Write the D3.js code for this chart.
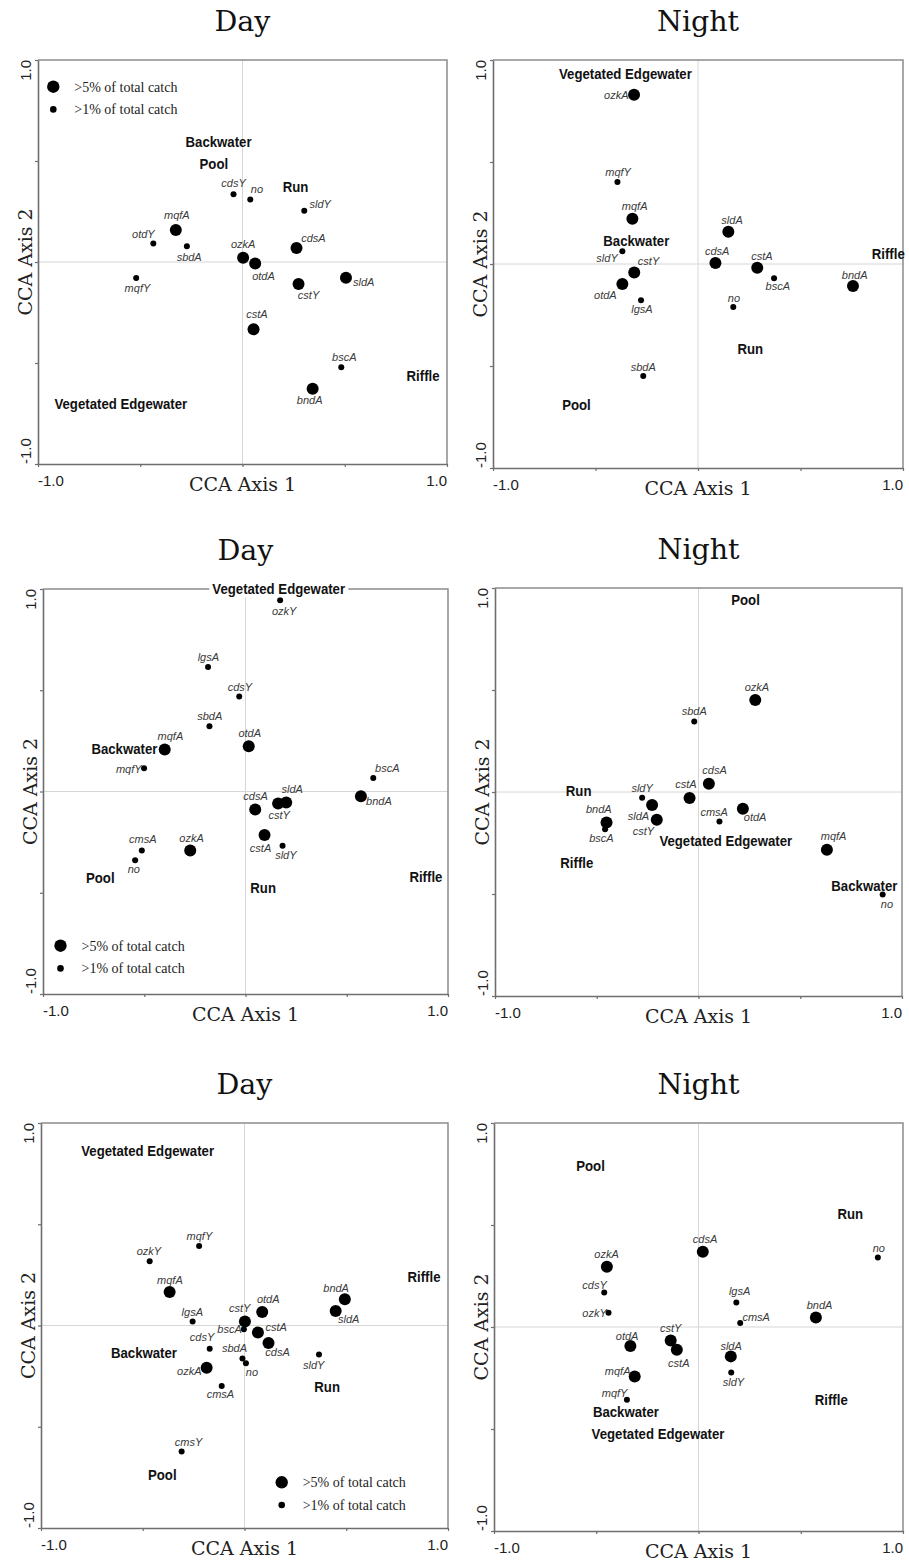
<!DOCTYPE html>
<html lang="en">
<head>
<meta charset="UTF-8">
<title>CCA biplots - day and night</title>
<script src="https://d3js.org/d3.v7.min.js"></script>
<style>
  body { margin: 0; background: #fff; }
  svg { display: block; }
  .title { font-family: 'DejaVu Serif', serif; font-size: 28.5px; fill: #111; }
  .axis-label { font-family: 'DejaVu Serif', serif; font-size: 19px; fill: #222; }
  .tick-label { font-family: 'Liberation Sans', Arial, sans-serif; font-size: 15px; fill: #222; }
  .species { font-family: 'Liberation Sans', Arial, sans-serif; font-size: 11px; font-style: italic; fill: #3a3a3a; }
  .habitat { font-family: 'Liberation Sans', Arial, sans-serif; font-size: 15px; font-weight: bold; fill: #111; }
  .legend { font-family: 'Liberation Serif', serif; font-size: 14px; fill: #222; }
</style>
</head>
<body>
<svg width="909" height="1562"></svg>
<script>
  // ---- data ----
  const panelTitles = ['Day', 'Night', 'Day', 'Night', 'Day', 'Night'];
  const axisTicks = [-1, -0.5, 0, 0.5, 1];
  const tickLabels = ['-1.0', '1.0'];
  const legendLabels = ['>5% of total catch', '>1% of total catch'];

  // species scores: [code, axis 1, axis 2, catch class (5 = >5%, 1 = >1%)]
  const day1Species = [
    ['cdsY', -0.044, 0.335, 1], ['no', 0.038, 0.310, 1], ['sldY', 0.302, 0.254, 1],
    ['mqfA', -0.326, 0.158, 5], ['otdY', -0.436, 0.091, 1], ['sbdA', -0.272, 0.078, 1],
    ['ozkA', 0.003, 0.021, 5], ['otdA', 0.062, -0.007, 5], ['cdsA', 0.264, 0.069, 5],
    ['mqfY', -0.520, -0.079, 1], ['cstY', 0.274, -0.109, 5], ['sldA', 0.506, -0.078, 5],
    ['cstA', 0.054, -0.333, 5], ['bscA', 0.483, -0.521, 1], ['bndA', 0.343, -0.627, 5]
  ];
  const night1Species = [
    ['ozkA', -0.312, 0.830, 5], ['mqfY', -0.393, 0.402, 1], ['mqfA', -0.320, 0.222, 5],
    ['sldA', 0.148, 0.158, 5], ['sldY', -0.369, 0.062, 1], ['cstY', -0.311, -0.042, 5],
    ['otdA', -0.369, -0.098, 5], ['lgsA', -0.278, -0.178, 1], ['cdsA', 0.085, 0.005, 5],
    ['cstA', 0.289, -0.018, 5], ['bscA', 0.371, -0.070, 1], ['no', 0.172, -0.211, 1],
    ['bndA', 0.756, -0.108, 5], ['sbdA', -0.267, -0.549, 1]
  ];
  const day2Species = [
    ['ozkY', 0.171, 0.944, 1], ['lgsA', -0.185, 0.615, 1], ['cdsY', -0.031, 0.469, 1],
    ['sbdA', -0.178, 0.322, 1], ['mqfA', -0.399, 0.207, 5], ['otdA', 0.016, 0.224, 5],
    ['mqfY', -0.501, 0.115, 1], ['bscA', 0.631, 0.067, 1], ['bndA', 0.570, -0.023, 5],
    ['sldA', 0.201, -0.054, 5], ['cstY', 0.161, -0.059, 5], ['cdsA', 0.048, -0.089, 5],
    ['cstA', 0.094, -0.215, 5], ['sldY', 0.183, -0.268, 1], ['ozkA', -0.273, -0.291, 5],
    ['cmsA', -0.512, -0.291, 1], ['no', -0.545, -0.340, 1]
  ];
  const night2Species = [
    ['ozkA', 0.279, 0.451, 5], ['sbdA', -0.021, 0.346, 1], ['cdsA', 0.051, 0.041, 5],
    ['cstA', -0.044, -0.029, 5], ['sldY', -0.277, -0.028, 1], ['sldA', -0.228, -0.064, 5],
    ['cstY', -0.205, -0.136, 5], ['otdA', 0.218, -0.082, 5], ['cmsA', 0.103, -0.144, 1],
    ['bndA', -0.452, -0.150, 5], ['bscA', -0.459, -0.183, 1], ['mqfA', 0.631, -0.283, 5],
    ['no', 0.905, -0.502, 1]
  ];
  const day3Species = [
    ['mqfY', -0.223, 0.392, 1], ['ozkY', -0.466, 0.317, 1], ['mqfA', -0.368, 0.166, 5],
    ['bndA', 0.493, 0.130, 5], ['sldA', 0.448, 0.072, 5], ['otdA', 0.087, 0.067, 5],
    ['cstY', 0.002, 0.020, 5], ['lgsA', -0.255, 0.020, 1], ['bscA', -0.003, -0.018, 1],
    ['cstA', 0.066, -0.035, 5], ['cdsA', 0.118, -0.086, 5], ['cdsY', -0.171, -0.115, 1],
    ['sbdA', -0.010, -0.163, 1], ['no', 0.007, -0.186, 1], ['sldY', 0.366, -0.143, 1],
    ['ozkA', -0.186, -0.209, 5], ['cmsA', -0.112, -0.299, 1], ['cmsY', -0.309, -0.622, 1]
  ];
  const night3Species = [
    ['cdsA', 0.021, 0.369, 5], ['no', 0.877, 0.341, 1], ['ozkA', -0.448, 0.295, 5],
    ['cdsY', -0.461, 0.169, 1], ['ozkY', -0.440, 0.070, 1], ['lgsA', 0.185, 0.120, 1],
    ['cmsA', 0.204, 0.020, 1], ['bndA', 0.574, 0.046, 5], ['otdA', -0.333, -0.093, 5],
    ['cstY', -0.136, -0.066, 5], ['cstA', -0.106, -0.111, 5], ['sldA', 0.158, -0.144, 5],
    ['sldY', 0.160, -0.223, 1], ['mqfA', -0.312, -0.243, 5], ['mqfY', -0.350, -0.357, 1]
  ];

  // habitat centroids: [name, axis 1, axis 2]
  const day1Habitats = [
    ['Backwater', -0.117, 0.594], ['Pool', -0.14, 0.487], ['Run', 0.259, 0.375],
    ['Riffle', 0.883, -0.564], ['Vegetated Edgewater', -0.595, -0.701]
  ];
  const night1Habitats = [
    ['Vegetated Edgewater', -0.354, 0.935], ['Backwater', -0.301, 0.114], ['Riffle', 0.928, 0.05],
    ['Run', 0.255, -0.413], ['Pool', -0.593, -0.688]
  ];
  const day2Habitats = [
    ['Vegetated Edgewater', 0.164, 1.0], ['Backwater', -0.598, 0.211], ['Pool', -0.717, -0.428],
    ['Run', 0.087, -0.474], ['Riffle', 0.891, -0.423]
  ];
  const night2Habitats = [
    ['Pool', 0.231, 0.944], ['Run', -0.589, 0.008], ['Riffle', -0.598, -0.348],
    ['Vegetated Edgewater', 0.134, -0.239], ['Backwater', 0.815, -0.458]
  ];
  const day3Habitats = [
    ['Vegetated Edgewater', -0.476, 0.863], ['Riffle', 0.882, 0.243], ['Backwater', -0.494, -0.133],
    ['Run', 0.406, -0.303], ['Pool', -0.404, -0.736]
  ];
  const night3Habitats = [
    ['Pool', -0.528, 0.792], ['Run', 0.742, 0.557], ['Riffle', 0.649, -0.357],
    ['Backwater', -0.355, -0.415], ['Vegetated Edgewater', -0.198, -0.525]
  ];

  // ---- layout ----
  // label offsets (px) of each species code from its point
  const day1Labels = { cdsY: [0, -10.7], no: [6.7, -10], sldY: [16, -7], mqfA: [1, -14.7], otdY: [-10, -9],
    sbdA: [2.3, 11.3], ozkA: [0, -14], otdA: [8.3, 12.3], cdsA: [17, -10], mqfY: [1.3, 9.7], cstY: [10, 11],
    sldA: [17.7, 4.3], cstA: [3.3, -15], bscA: [3, -9.7], bndA: [-3, 11] };
  const night1Labels = { ozkA: [-17.7, 0], mqfY: [0.7, -9.7], mqfA: [2.3, -13], sldA: [3.7, -11.7], sldY: [-15.3, 6.3],
    cstY: [14.3, -11], otdA: [-17, 11.3], lgsA: [1, 9.3], cdsA: [1.7, -12], cstA: [4.7, -11.7], bscA: [3.7, 7.7],
    no: [0.7, -9], bndA: [1.7, -11.3], sbdA: [0, -9] };
  const day2Labels = { ozkY: [4, 11.3], lgsA: [0.3, -10.3], cdsY: [0.7, -9.7], sbdA: [0.3, -9.7], mqfA: [5.7, -13.3],
    otdA: [1, -12.7], mqfY: [-15.3, 0.7], bscA: [14, -10], bndA: [18, 4.7], sldA: [6, -13.3], cstY: [1, 12],
    cdsA: [0.3, -13], cstA: [-4, 13], sldY: [3.3, 9.7], ozkA: [1.3, -12.3], cmsA: [1, -11], no: [-1.3, 8.7] };
  const night2Labels = { ozkA: [1.7, -13], sbdA: [0, -10.3], cdsA: [5.7, -13.3], cstA: [-3.7, -13.3], sldY: [0, -10],
    sldA: [-13.7, 11.3], cstY: [-13.3, 11.7], otdA: [12.3, 8.7], cmsA: [-5.3, -9.3], bndA: [-7.7, -13],
    bscA: [-3.7, 9.3], mqfA: [6.7, -13.7], no: [4.3, 9.7] };
  const day3Labels = { mqfY: [0.3, -10.3], ozkY: [-0.7, -10], mqfA: [0.3, -11.7], bndA: [-8.7, -10.7], sldA: [13, 8],
    otdA: [6, -12.3], cstY: [-5.3, -13], lgsA: [-0.3, -9.7], bscA: [-14.3, 0], cstA: [18.3, -5], cdsA: [9, 9.7],
    cdsY: [-7.7, -11.3], sbdA: [-8, -10.7], no: [6, 9.3], sldY: [-5.3, 10.3], ozkA: [-17.3, 3], cmsA: [-1.3, 8.3],
    cmsY: [7, -9.7] };
  const night3Labels = { cdsA: [2.3, -12.3], no: [1, -9], ozkA: [-0.3, -12.3], cdsY: [-9.7, -7.7], ozkY: [-14, 0],
    lgsA: [3.3, -11], cmsA: [16, -6], bndA: [3.7, -12.3], otdA: [-3.3, -10], cstY: [0, -12.3], cstA: [2, 13.3],
    sldA: [0.3, -10], sldY: [2.3, 10], mqfA: [-17, -5], mqfY: [-12.3, -7] };

  // frame = [left, top, width, height]; legend = offset inside the frame
  const panels = [
    { title: panelTitles[0], species: day1Species, habitats: day1Habitats, labels: day1Labels, frame: [38, 60, 409, 404], legend: [15.3, 26.7] },
    { title: panelTitles[1], species: night1Species, habitats: night1Habitats, labels: night1Labels, frame: [493, 60, 410, 408] },
    { title: panelTitles[2], species: day2Species, habitats: day2Habitats, labels: day2Labels, frame: [43, 589, 405, 405], legend: [17.5, 356.7] },
    { title: panelTitles[3], species: night2Species, habitats: night2Habitats, labels: night2Labels, frame: [495, 588, 407, 408] },
    { title: panelTitles[4], species: day3Species, habitats: day3Habitats, labels: day3Labels, frame: [41, 1123, 407, 405], legend: [240.7, 359.3] },
    { title: panelTitles[5], species: night3Species, habitats: night3Habitats, labels: night3Labels, frame: [494, 1123, 409, 408] }
  ];

  const svg = d3.select('svg');
  const radius = c => (c === 5 ? 6 : 3);

  // narrow the bold habitat labels a bit, like the original
  function squeeze(sel, k) {
    sel.each(function () {
      const w = this.getComputedTextLength();
      d3.select(this).attr('textLength', w * k).attr('lengthAdjust', 'spacingAndGlyphs');
    });
  }

  panels.forEach(p => {
    const [left, top, w, h] = p.frame;
    const x = d3.scaleLinear().domain([-1, 1]).range([left, left + w]);
    const y = d3.scaleLinear().domain([-1, 1]).range([top + h, top]);
    const g = svg.append('g');

    // title
    g.append('text').attr('class', 'title')
      .attr('x', x(0)).attr('y', top - 29)
      .attr('text-anchor', 'middle')
      .text(p.title);

    // zero lines
    g.append('line')
      .attr('x1', x(0)).attr('x2', x(0)).attr('y1', y(-1)).attr('y2', y(1))
      .attr('stroke', '#d6d6d6').attr('stroke-width', 1);
    g.append('line')
      .attr('x1', x(-1)).attr('x2', x(1)).attr('y1', y(0)).attr('y2', y(0))
      .attr('stroke', '#d6d6d6').attr('stroke-width', 1);

    // top and right of frame
    g.append('path')
      .attr('d', `M${x(-1)},${y(1)}H${x(1)}V${y(-1)}`)
      .attr('fill', 'none').attr('stroke', '#8c8c8c').attr('stroke-width', 1.5);

    // axes
    const xAxis = g.append('g')
      .attr('transform', `translate(0,${y(-1)})`)
      .call(d3.axisBottom(x).tickValues(axisTicks).tickSize(3).tickSizeOuter(0).tickFormat(''));
    const yAxis = g.append('g')
      .attr('transform', `translate(${x(-1)},0)`)
      .call(d3.axisLeft(y).tickValues(axisTicks).tickSize(3).tickSizeOuter(0).tickFormat(''));
    [xAxis, yAxis].forEach(a => {
      a.select('.domain').attr('stroke', '#6e6e6e').attr('stroke-width', 1.6);
      a.selectAll('.tick line').attr('stroke', '#6e6e6e').attr('stroke-width', 1.2);
    });

    // tick labels
    g.append('text').attr('class', 'tick-label')
      .attr('x', x(-1)).attr('y', y(-1) + 22).attr('text-anchor', 'start').text(tickLabels[0]);
    g.append('text').attr('class', 'tick-label')
      .attr('x', x(1)).attr('y', y(-1) + 22).attr('text-anchor', 'end').text(tickLabels[1]);
    g.append('text').attr('class', 'tick-label')
      .attr('transform', `translate(${x(-1) - 7},${y(1)}) rotate(-90)`)
      .attr('text-anchor', 'end').text(tickLabels[1]);
    g.append('text').attr('class', 'tick-label')
      .attr('transform', `translate(${x(-1) - 7},${y(-1)}) rotate(-90)`)
      .attr('text-anchor', 'start').text(tickLabels[0]);

    // axis titles
    g.append('text').attr('class', 'axis-label')
      .attr('x', x(0)).attr('y', y(-1) + 27)
      .attr('text-anchor', 'middle').text('CCA Axis 1');
    g.append('text').attr('class', 'axis-label')
      .attr('transform', `translate(${x(-1) - 6},${y(0)}) rotate(-90)`)
      .attr('text-anchor', 'middle').text('CCA Axis 2');

    // species points
    g.append('g').selectAll('circle')
      .data(p.species)
      .join('circle')
      .attr('cx', d => x(d[1]))
      .attr('cy', d => y(d[2]))
      .attr('r', d => radius(d[3]))
      .attr('fill', '#000');

    g.append('g').selectAll('text')
      .data(p.species)
      .join('text')
      .attr('class', 'species')
      .attr('x', d => x(d[1]) + p.labels[d[0]][0])
      .attr('y', d => y(d[2]) + p.labels[d[0]][1])
      .attr('dy', '0.35em')
      .attr('text-anchor', 'middle')
      .text(d => d[0]);

    // habitat labels
    const hab = g.append('g').selectAll('text')
      .data(p.habitats)
      .join('text')
      .attr('class', 'habitat')
      .attr('x', d => x(d[1]))
      .attr('y', d => y(d[2]))
      .attr('dy', '0.35em')
      .attr('text-anchor', 'middle')
      .text(d => d[0]);
    squeeze(hab, 0.88);

    // labels sitting on the frame get a white gap behind them
    hab.filter(d => d[2] >= 0.99).each(function () {
      const b = this.getBBox();
      d3.select(this.parentNode).insert('rect', function () { return this.firstChild; })
        .attr('x', b.x - 3).attr('y', b.y)
        .attr('width', b.width + 6).attr('height', b.height)
        .attr('fill', '#fff');
    });

    // legend
    if (p.legend) {
      const lg = g.append('g')
        .attr('transform', `translate(${left + p.legend[0]},${top + p.legend[1]})`);
      lg.selectAll('circle')
        .data([5, 1])
        .join('circle')
        .attr('cx', 0)
        .attr('cy', (d, i) => i * 22.7)
        .attr('r', d => (d === 5 ? 6.2 : 3.3))
        .attr('fill', '#000');
      lg.selectAll('text')
        .data(legendLabels)
        .join('text')
        .attr('class', 'legend')
        .attr('x', 21)
        .attr('y', (d, i) => i * 22.7)
        .attr('dy', '0.35em')
        .text(d => d);
    }
  });
</script>
</body>
</html>
